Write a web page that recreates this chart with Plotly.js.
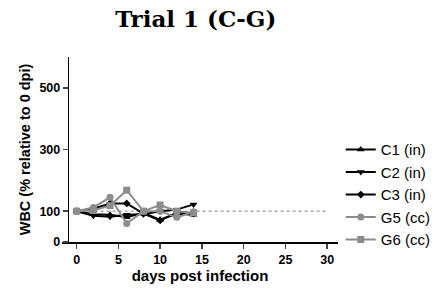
<!DOCTYPE html>
<html><head><meta charset="utf-8">
<script src="https://cdn.plot.ly/plotly-3.0.1.min.js"></script>
<style>html,body{margin:0;padding:0;background:#fff}#chart{width:448px;height:292px}</style>
</head><body><div id="chart"></div>
<script>
const days = [0, 2, 4, 6, 8, 10, 12, 14];
const seriesNames = ["C1 (in)", "C2 (in)", "C3 (in)", "G5 (cc)", "G6 (cc)"];
const c1 = [100, 90, 88, 80, 95, 72, 92, 88];
const c2 = [100, 85, 82, 88, 90, 100, 105, 122];
const c3 = [100, 108, 125, 125, 92, 70, 95, 92];
const g5 = [100, 112, 145, 60, 100, 100, 80, 98];
const g6 = [100, 102, 118, 168, 100, 120, 100, 95];
const xTicks = [0, 5, 10, 15, 20, 25, 30];
const yTicks = [0, 100, 300, 500];
const refLineValue = 100;
const refLineDays = [0, 30];

const styles = [
  {color: "#000000", symbol: "triangle-up", size: 7},
  {color: "#000000", symbol: "triangle-down", size: 7},
  {color: "#000000", symbol: "diamond", size: 6},
  {color: "#8c8c8c", symbol: "circle", size: 7},
  {color: "#8c8c8c", symbol: "square", size: 7}
];
const allY = [c1, c2, c3, g5, g6];
const traces = allY.map((ys, i) => ({
  x: days, y: ys, name: seriesNames[i], type: "scatter", mode: "lines+markers",
  line: {color: styles[i].color, width: 2},
  marker: {color: styles[i].color, symbol: styles[i].symbol, size: styles[i].size}
}));
traces.unshift({x: refLineDays, y: [refLineValue, refLineValue], mode: "lines", showlegend: false,
  line: {color: "#aaaaaa", width: 1.5, dash: "dot"}, hoverinfo: "skip"});

const font = {family: "Liberation Sans, Arial, sans-serif", color: "#000"};
const layout = {
  width: 448, height: 292,
  margin: {l: 62, r: 103, t: 57, b: 50},
  paper_bgcolor: "#fff", plot_bgcolor: "#fff",
  title: {text: "<b>Trial 1 (C-G)</b>", x: 0.437, xanchor: "center", y: 0.935, yanchor: "middle",
    font: {family: "DejaVu Serif, Liberation Serif, serif", size: 23, color: "#000"}},
  xaxis: {range: [-1.75, 31.3], tickvals: xTicks, ticks: "outside", ticklen: 5, tickwidth: 1.5,
    showline: true, linecolor: "#000", linewidth: 1.5, showgrid: false, zeroline: false,
    tickfont: Object.assign({size: 12.5, weight: "bold"}, font),
    title: {text: "<b>days post infection</b>", standoff: 3, font: Object.assign({size: 15}, font)}},
  yaxis: {range: [0, 600], tickvals: yTicks, ticks: "outside", ticklen: 5, tickwidth: 1.5,
    anchor: "free", position: 0.021, side: "left",
    showline: true, linecolor: "#000", linewidth: 1.5, showgrid: false, zeroline: false,
    tickfont: Object.assign({size: 12.5, weight: "bold"}, font),
    title: {text: "<b>WBC (% relative to 0 dpi)</b>", standoff: 4, font: Object.assign({size: 14.5}, font)}},
  legend: {x: 1.01, xanchor: "left", y: 0.255, yanchor: "middle", tracegroupgap: 0,
    font: Object.assign({size: 15}, font), itemwidth: 30, bgcolor: "rgba(0,0,0,0)"},
  showlegend: true
};
Plotly.newPlot("chart", traces, layout, {displayModeBar: false, staticPlot: true});
</script></body></html>
